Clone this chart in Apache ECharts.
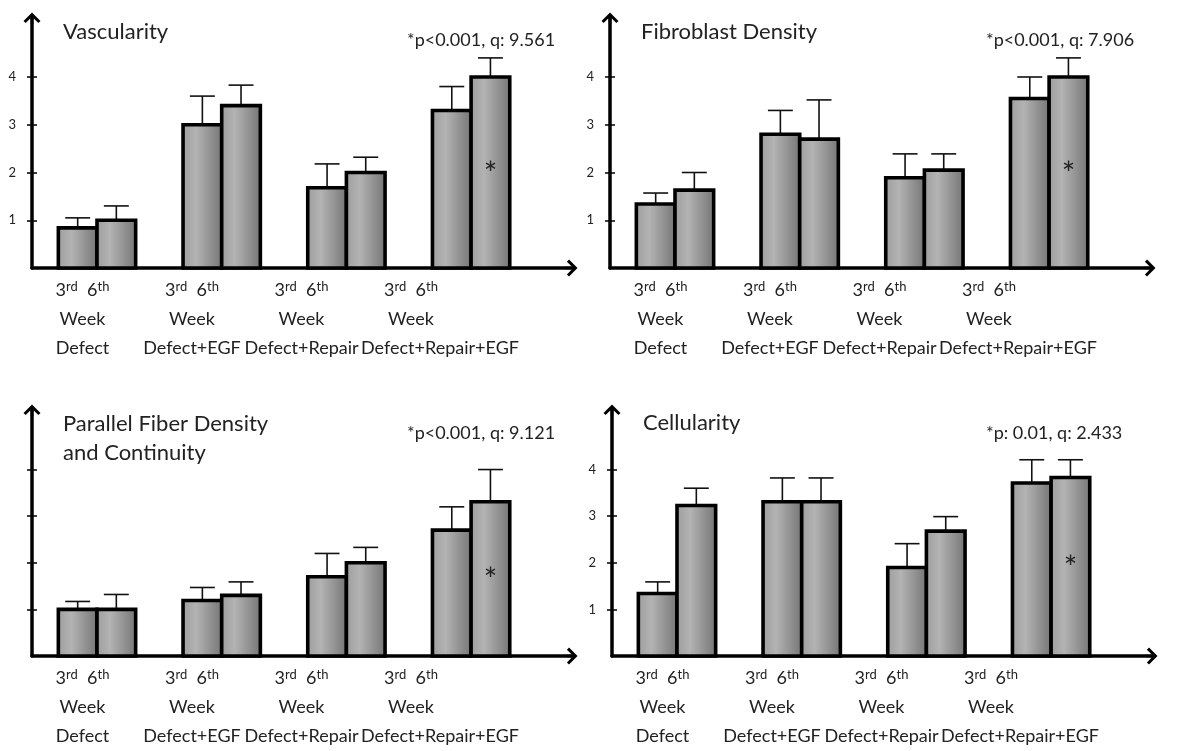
<!DOCTYPE html>
<html><head><meta charset="utf-8">
<script src="https://cdn.jsdelivr.net/npm/echarts@6/dist/echarts.min.js"></script>
<style>html,body{margin:0;padding:0;background:#fff}#c{width:1199px;height:751px}</style>
</head><body><div id="c"></div>
<script>
// ---------- data ----------
const groups = ['Defect', 'Defect+EGF', 'Defect+Repair', 'Defect+Repair+EGF'];
const weeks = ['3rd', '6th'];
const yTicks = [1, 2, 3, 4];
const panelTitles = ['Vascularity', 'Fibroblast Density', 'Parallel Fiber Density\nand Continuity', 'Cellularity'];
const panelNotes = ['*p<0.001, q: 9.561', '*p<0.001, q: 7.906', '*p<0.001, q: 9.121', '*p: 0.01, q: 2.433'];
const starGroup = 3;

const vasc3rd = [0.84, 3.0, 1.68, 3.3];
const vasc3rdErr = [0.21, 0.6, 0.5, 0.5];
const vasc6th = [1.0, 3.4, 2.0, 4.0];
const vasc6thErr = [0.3, 0.43, 0.32, 0.4];

const fibro3rd = [1.34, 2.8, 1.89, 3.55];
const fibro3rdErr = [0.23, 0.5, 0.5, 0.45];
const fibro6th = [1.63, 2.7, 2.05, 4.0];
const fibro6thErr = [0.37, 0.82, 0.34, 0.4];

const fiber3rd = [1.0, 1.19, 1.7, 2.7];
const fiber3rdErr = [0.17, 0.28, 0.5, 0.5];
const fiber6th = [1.0, 1.3, 2.0, 3.31];
const fiber6thErr = [0.32, 0.29, 0.33, 0.69];

const cell3rd = [1.34, 3.31, 1.9, 3.71];
const cell3rdErr = [0.25, 0.51, 0.51, 0.5];
const cell6th = [3.23, 3.31, 2.68, 3.83];
const cell6thErr = [0.37, 0.51, 0.31, 0.38];

const panelData = [
  [vasc3rd, vasc3rdErr, vasc6th, vasc6thErr],
  [fibro3rd, fibro3rdErr, fibro6th, fibro6thErr],
  [fiber3rd, fiber3rdErr, fiber6th, fiber6thErr],
  [cell3rd, cell3rdErr, cell6th, cell6thErr]
];

// ---------- layout ----------
const FONT = 'Lato';
const UNIT = 47.75, GRID_W = 540, GROUP_PX = 124.7, FIRST_PX = 65, LABEL_PX = 109.5, LABEL_FIRST = 50.5;
const layout = [
  {left: 32, top: 18, height: 250, yLabels: true, titleTop: 17.5, noteLeft: 407, noteTop: 29},
  {left: 610, top: 18, height: 250, yLabels: true, titleTop: 17.5, noteLeft: 986, noteTop: 29},
  {left: 32, top: 410, height: 252, yLabels: false, titleTop: 409.5, noteLeft: 407, noteTop: 422},
  {left: 612, top: 410, height: 252, yLabels: true, titleTop: 408.5, noteLeft: 986, noteTop: 422}
];
const CHEVRON = 'path://M10,0 L20,10 L17.5,12.5 L11.5,6.5 L11.5,13 L8.5,13 L8.5,6.5 L2.5,12.5 L0,10 Z';
// extra right shift (px) applied to a long group name that did not fit under its own bars
const nameShift = [0, 0, 0, 58];
// label slots: the four groups plus an empty trailing slot (keeps ECharts from hiding a label)
const labelSlots = [0, 1, 2, 3, 4.3];

function weekRich(w) { return w.replace(/^(\d+)(\D+)$/, '$1{s|$2}'); }

function makeRender(side, withStar) {
  return function (params, api) {
    const g = api.value(0), v = api.value(1), e = api.value(2);
    const base = api.coord([g, 0]);
    const top = api.coord([g, v]);
    const et = api.coord([g, v + e]);
    const w = api.size([0.31, 0])[0];
    const capW = api.size([0.2, 0])[0];
    const x0 = side === 0 ? base[0] - w : base[0];
    const cx = x0 + w / 2;
    const grad = new echarts.graphic.LinearGradient(0, 0, 1, 0, [
      {offset: 0, color: '#9c9c9c'}, {offset: 0.35, color: '#b3b3b3'}, {offset: 1, color: '#737373'}
    ]);
    const children = [
      {type: 'line', shape: {x1: cx, y1: top[1], x2: cx, y2: et[1]}, style: {stroke: '#111', lineWidth: 1.6}},
      {type: 'line', shape: {x1: cx - capW / 2, y1: et[1], x2: cx + capW / 2, y2: et[1]}, style: {stroke: '#111', lineWidth: 1.6}},
      {type: 'rect', shape: {x: x0, y: top[1], width: w, height: base[1] - top[1]},
       style: {fill: grad, stroke: '#000', lineWidth: 3.6}}
    ];
    if (withStar && params.dataIndex === starGroup) {
      const mid = api.coord([g, v / 2]);
      children.push({type: 'text', x: cx, y: mid[1] + 2,
        style: {text: '*', fontSize: 32, fontFamily: FONT, fill: '#222', align: 'center', verticalAlign: 'middle'}});
    }
    return {type: 'group', children};
  };
}

const nameRich = {};
nameShift.forEach((s, i) => {
  nameRich['n' + i] = {fontFamily: FONT, fontSize: 18, color: '#222', lineHeight: 29, padding: [0, 0, 0, s]};
});

const grid = [], xAxis = [], yAxis = [], series = [], title = [];
layout.forEach((L, p) => {
  grid.push({left: L.left, top: L.top, width: GRID_W, height: L.height});
  const ymax = L.height / UNIT;
  const xmin = -FIRST_PX / GROUP_PX;
  const lmin = -LABEL_FIRST / LABEL_PX;
  xAxis.push({
    type: 'value', gridIndex: p, position: 'bottom', min: xmin, max: xmin + GRID_W / GROUP_PX,
    axisLine: {show: true, onZero: false, symbol: ['none', CHEVRON], symbolSize: [17, 12],
      lineStyle: {color: '#000', width: 3.5}},
    axisTick: {show: false}, axisLabel: {show: false}, splitLine: {show: false}
  });
  xAxis.push({
    type: 'value', gridIndex: p, position: 'bottom', min: lmin, max: lmin + GRID_W / LABEL_PX,
    axisLine: {show: false}, axisTick: {show: false}, splitLine: {show: false},
    axisLabel: {
      show: true, customValues: labelSlots, margin: 8, hideOverlap: false,
      fontFamily: FONT, fontSize: 18, color: '#222', lineHeight: 29,
      formatter: (val) => {
        const i = Math.round(val);
        if (i !== val || !groups[i]) return ' ';
        return weeks.map(weekRich).join('  ') + '\nWeek\n{n' + i + '|' + groups[i] + '}';
      },
      rich: Object.assign({
        s: {fontFamily: FONT, fontSize: 13, color: '#222', lineHeight: 22, padding: [0, 0, 7, 0], verticalAlign: 'middle'}
      }, nameRich)
    }
  });
  yAxis.push({
    type: 'value', gridIndex: p, position: 'left', min: 0, max: ymax,
    axisLine: {show: true, onZero: false, symbol: ['none', CHEVRON], symbolSize: [17, 12],
      lineStyle: {color: '#000', width: 3.5}},
    axisTick: {show: true, customValues: yTicks, length: 5, lineStyle: {color: '#000', width: 1.5}},
    axisLabel: {show: L.yLabels, customValues: yTicks, margin: 16, fontFamily: FONT, fontSize: 13,
      color: '#222', padding: [0, 0, 9, 0]},
    splitLine: {show: false}
  });
  yAxis.push({
    type: 'value', gridIndex: p, position: 'left', min: 0, max: ymax,
    axisLine: {show: false, onZero: false},
    axisTick: {show: true, inside: true, customValues: yTicks, length: 5, lineStyle: {color: '#000', width: 1.5}},
    axisLabel: {show: false}, splitLine: {show: false}
  });
  const d = panelData[p];
  [0, 1].forEach(side => {
    const vals = d[side * 2], errs = d[side * 2 + 1];
    series.push({
      type: 'custom', name: weeks[side], xAxisIndex: p * 2, yAxisIndex: p * 2, clip: false,
      renderItem: makeRender(side, side === 1),
      encode: {x: 0, y: 1},
      data: groups.map((g, i) => [i, vals[i], errs[i]])
    });
  });
  title.push({text: panelTitles[p], left: L.left + 31, top: L.titleTop, padding: 0,
    textStyle: {fontFamily: FONT, fontSize: 22, fontWeight: 'normal', color: '#222', lineHeight: 29}});
  title.push({text: panelNotes[p], left: L.noteLeft, top: L.noteTop, padding: 0,
    textStyle: {fontFamily: FONT, fontSize: 18, fontWeight: 'normal', color: '#222', lineHeight: 22}});
});

const chart = echarts.init(document.getElementById('c'), null, {renderer: 'canvas'});
chart.setOption({backgroundColor: '#fff', animation: false, title, grid, xAxis, yAxis, series});
</script></body></html>
